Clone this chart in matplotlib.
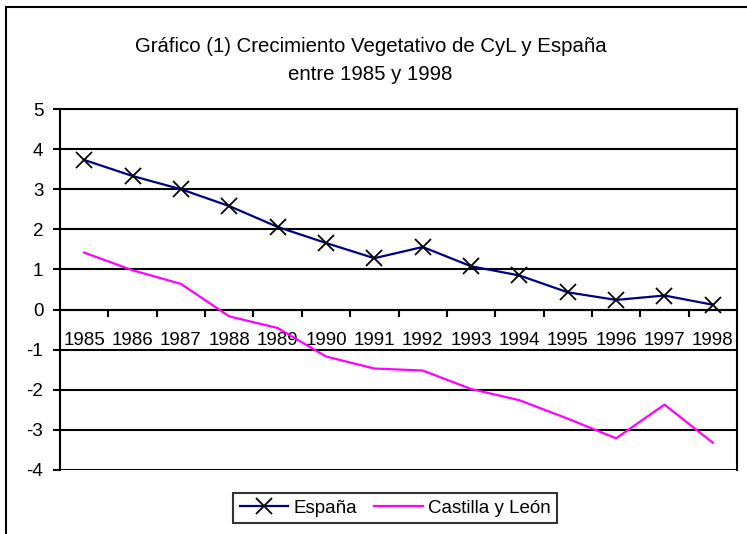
import matplotlib.pyplot as plt
import numpy as np
from matplotlib.patches import Rectangle

plt.rcParams['font.family'] = ['Liberation Sans', 'DejaVu Sans']

# data
years = ['1985', '1986', '1987', '1988', '1989', '1990', '1991',
         '1992', '1993', '1994', '1995', '1996', '1997', '1998']
espana = [3.73, 3.33, 3.0, 2.58, 2.06, 1.66, 1.28,
          1.56, 1.08, 0.85, 0.43, 0.24, 0.35, 0.12]
castilla = [1.42, 0.98, 0.64, -0.17, -0.46, -1.17, -1.47,
            -1.52, -1.98, -2.26, -2.72, -3.21, -2.37, -3.32]
yticks = [-4, -3, -2, -1, 0, 1, 2, 3, 4, 5]

fig = plt.figure(figsize=(7.47, 5.34), dpi=100)
ax = fig.add_axes([60/747, 1 - 470/534, 677/747, 361/534])

x = np.arange(len(years))
for v in yticks:
    ax.axhline(v, color='black', lw=1.5, zorder=1)

ax.plot(x, espana, color='#000080', lw=1.6, marker='x', ms=11,
        mec='black', mew=1.3, label='España', zorder=3)
ax.plot(x, castilla, color='#ff00ff', lw=1.6, label='Castilla y León', zorder=3)

ax.set_xlim(-0.5, len(years) - 0.5)
ax.set_ylim(-4, 5)
ax.set_yticks(yticks)
ax.set_yticklabels([str(v) for v in yticks], fontsize=13.5)
ax.tick_params(axis='y', direction='out', length=5, width=1.5, pad=7)

# category axis crossing at zero, ticks between categories
ax.spines['bottom'].set_position(('data', 0))
for s in ax.spines.values():
    s.set_linewidth(1.5)
ax.set_xticks(np.arange(len(years) - 1) + 0.5)
ax.set_xticklabels([])
ax.tick_params(axis='x', direction='out', length=5, width=1.5)
ax.set_xticks(x, minor=True)
ax.set_xticklabels(years, minor=True, fontsize=13.5)
ax.tick_params(axis='x', which='minor', length=0, pad=16.5)

fig.text(0.496, 1 - 61/534, 'Gráfico (1) Crecimiento Vegetativo de CyL y España\nentre 1985 y 1998',
         ha='center', va='center', fontsize=14.7, linespacing=1.6)

leg = fig.legend(loc='center', bbox_to_anchor=(395/747, 1 - 508/534), ncol=2,
                 fontsize=13.5, frameon=True, fancybox=False, edgecolor='black',
                 handlelength=2.6, handletextpad=0.27, columnspacing=0.9,
                 borderpad=0.35, borderaxespad=0)
leg.get_frame().set_linewidth(1.5)

fig.patches.append(Rectangle((6/747, -0.1), 1.2, 1 - 7/534 + 0.1,
                             transform=fig.transFigure, fill=False,
                             edgecolor='black', lw=1.5))

fig.savefig('out.png', dpi=100)
